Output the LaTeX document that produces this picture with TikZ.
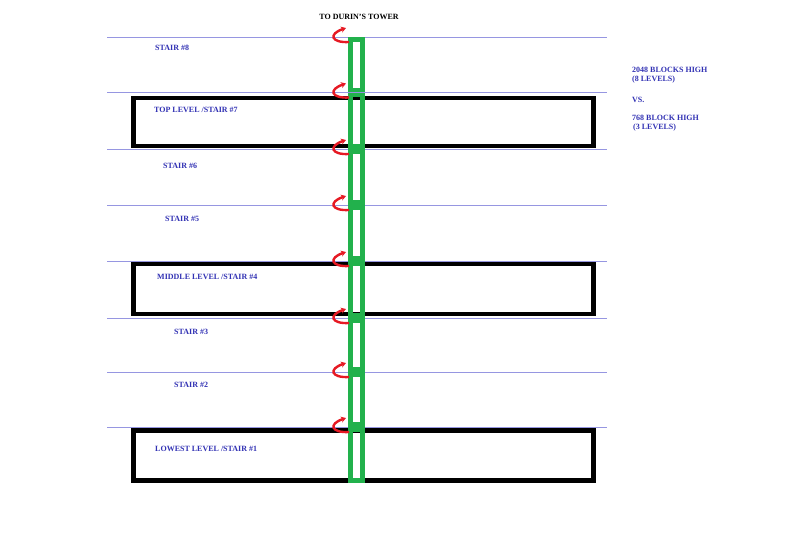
\documentclass[tikz,border=0pt]{standalone}
\usepackage{fontspec}
\setmainfont{Liberation Serif}
\usetikzlibrary{arrows.meta}
\definecolor{lineblue}{RGB}{150,150,225}
\definecolor{txtblue}{RGB}{50,50,180}
\definecolor{stairgreen}{RGB}{34,177,76}
\definecolor{arrowred}{RGB}{230,25,35}
\tikzset{
  blueline/.style={draw=lineblue, line width=1pt},
  levelbox/.style={draw=black, line width=4.5pt},
  stairbox/.style={draw=stairgreen, line width=4.5pt},
  redarrow/.style={draw=arrowred, line width=2.4pt, -{Stealth[length=5pt,width=6pt]}},
  lbl/.style={anchor=west, text=txtblue, font=\fontsize{8}{9.6}\selectfont\bfseries, inner sep=0pt},
  ttl/.style={text=black, font=\fontsize{8}{9.6}\selectfont\bfseries, inner sep=0pt}
}
\begin{document}
\begin{tikzpicture}[x=1pt,y=-1pt]
\useasboundingbox[fill=white] (0,0) rectangle (800,558);
% floor lines
\foreach \y [count=\i] in {37,92.5,149,205,261,318,372,427} {
  \draw[blueline] (107,\y) coordinate (l\i w) -- (607,\y) coordinate (l\i e);
}
% level boxes
\draw[levelbox] (133.5,98) coordinate (t1) rectangle (593.5,146) coordinate (t2);
\draw[levelbox] (133.5,264) coordinate (m1) rectangle (593.5,314) coordinate (m2);
\draw[levelbox] (133.5,430.5) coordinate (b1) rectangle (593.5,480.5) coordinate (b2);
% stair segments
\foreach \a/\b [count=\i] in {39.5/90,95/146.5,151.5/202.5,207.5/258.5,263.5/315.5,320.5/369.5,374.5/424.5,429.5/480.5} {
  \draw[stairbox] (350.5,\a) coordinate (s\i a) rectangle (362.5,\b) coordinate (s\i b);
}
% red arrows
\foreach \y [count=\i] in {37,92.5,149,205,261,318,372,427} {
  \coordinate (r\i s) at (349,\y+5);
  \coordinate (r\i e) at (346,\y-9);
  \draw[redarrow] (r\i s) .. controls (331,\y+6) and (328,\y-3) .. (r\i e);
}
% labels
\node[ttl] (tower) at (359,17) {TO DURIN'S TOWER};
\node[lbl] (st8) at (155,48) {STAIR \#8};
\node[lbl] (st7) at (154,110) {TOP LEVEL /STAIR \#7};
\node[lbl] (st6) at (163,166) {STAIR \#6};
\node[lbl] (st5) at (165,219) {STAIR \#5};
\node[lbl] (st4) at (157,277) {MIDDLE LEVEL /STAIR \#4};
\node[lbl] (st3) at (174,332) {STAIR \#3};
\node[lbl] (st2) at (174,385) {STAIR \#2};
\node[lbl] (st1) at (155,449) {LOWEST LEVEL /STAIR \#1};
\node[lbl] (n1) at (632,70) {2048 BLOCKS HIGH};
\node[lbl] (n2) at (632,79.5) {(8 LEVELS)};
\node[lbl] (n3) at (632,99.5) {VS.};
\node[lbl] (n4) at (632,118) {768 BLOCK HIGH};
\node[lbl] (n5) at (633,128) {(3 LEVELS)};
\end{tikzpicture}
\end{document}
